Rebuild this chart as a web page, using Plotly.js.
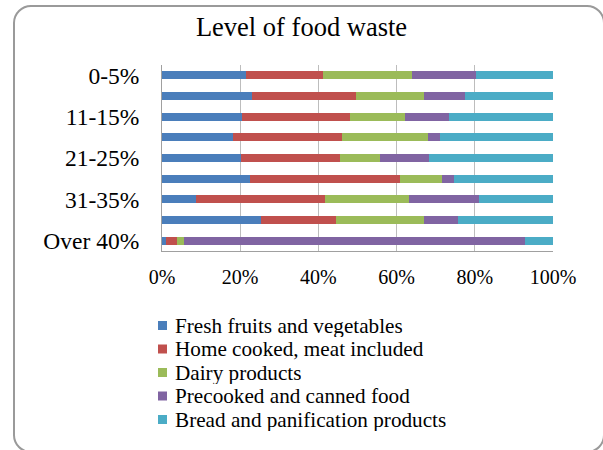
<!DOCTYPE html>
<html>
<head>
<meta charset="utf-8">
<script src="https://cdn.plot.ly/plotly-3.0.1.min.js"></script>
<style>
  html, body { margin: 0; padding: 0; background: #ffffff; }
  #wrap { position: relative; width: 603px; height: 450px; overflow: hidden; }
  #chart { width: 603px; height: 450px; }
  #frame {
    position: absolute; left: 13px; top: 5px; width: 588px; height: 444px;
    border: 2px solid #9a9a9a; border-radius: 18px; pointer-events: none;
  }
</style>
</head>
<body>
<div id="wrap">
  <div id="chart"></div>
  <div id="frame"></div>
</div>
<script>
// Share of wasted food by product type, per level of food waste
const categories = ['0-5%', '6-10%', '11-15%', '16-20%', '21-25%', '26-30%', '31-35%', '36-40%', 'Over 40%'];
const labeledCategories = ['0-5%', '11-15%', '21-25%', '31-35%', 'Over 40%'];

const seriesNames = [
  'Fresh fruits and vegetables',
  'Home cooked, meat included',
  'Dairy products',
  'Precooked and canned food',
  'Bread and panification products'
];
const seriesColors = ['#4A7EBB', '#C0504D', '#9BBB59', '#8064A2', '#4BACC6'];

const freshFruitsVegetables = [21.6, 23.1, 20.4, 18.2, 20.3, 22.6, 8.8, 25.4, 0.9];
const homeCookedMeat        = [19.7, 26.6, 27.6, 27.8, 25.1, 38.2, 33.0, 19.0, 2.9];
const dairyProducts         = [22.6, 17.2, 14.2, 22.1, 10.3, 10.7, 21.4, 22.5, 1.9];
const precookedCanned       = [16.3, 10.6, 11.2, 2.9, 12.6, 3.1, 18.0, 8.7, 87.1];
const breadPanification     = [19.8, 22.5, 26.6, 29.0, 31.7, 25.4, 18.8, 24.4, 7.2];

const seriesValues = [freshFruitsVegetables, homeCookedMeat, dairyProducts, precookedCanned, breadPanification];

const serif = 'Liberation Serif';

const traces = seriesNames.map((name, i) => ({
  type: 'bar',
  orientation: 'h',
  name: name,
  y: categories,
  x: seriesValues[i],
  marker: { color: seriesColors[i], line: { width: 0 } },
  showlegend: false,
  hoverinfo: 'name+x'
}));

// Plot area geometry (pixels) used to place the legend block under the chart
const W = 603, H = 450;
const M = { l: 162, r: 50, t: 65, b: 199 };
const plotW = W - M.l - M.r;
const plotH = H - M.t - M.b;
const px2x = px => (px - M.l) / plotW;
const py2y = py => (H - M.b - py) / plotH;

const legendTop = 325.5;
const legendStep = 23.5;
const annotations = [];
const shapes = [];
seriesNames.forEach((name, i) => {
  const cy = legendTop + i * legendStep;
  annotations.push({
    xref: 'paper', yref: 'paper',
    x: px2x(174), y: py2y(cy),
    xanchor: 'left', yanchor: 'middle',
    text: name, showarrow: false,
    borderpad: 0, height: 22,
    font: { family: serif, size: 21.2, color: '#000000' }
  });
  shapes.push({
    type: 'rect', xref: 'paper', yref: 'paper',
    x0: px2x(158), x1: px2x(167),
    y0: py2y(cy + 4.5), y1: py2y(cy - 4.5),
    fillcolor: seriesColors[i], line: { width: 0 }
  });
});

const layout = {
  width: W, height: H,
  margin: M,
  font: { family: serif, color: '#000000' },
  paper_bgcolor: '#ffffff',
  plot_bgcolor: '#ffffff',
  barmode: 'stack',
  barnorm: 'percent',
  bargap: 0.6,
  title: {
    text: 'Level of food waste',
    font: { family: serif, size: 26.5, color: '#000000' },
    x: 0.5, xref: 'container', xanchor: 'center',
    y: 1 - 27 / H, yref: 'container', yanchor: 'middle'
  },
  xaxis: {
    range: [0, 100],
    tickmode: 'linear', tick0: 0, dtick: 20,
    ticksuffix: '%',
    showgrid: true, gridcolor: '#bdbdbd', gridwidth: 1,
    showline: true, linecolor: '#a0a0a0', linewidth: 1,
    zeroline: false,
    ticks: '', ticklabelstandoff: 8,
    tickfont: { family: serif, size: 20, color: '#000000' },
    fixedrange: true
  },
  yaxis: {
    type: 'category',
    categoryorder: 'array', categoryarray: categories,
    autorange: 'reversed',
    tickmode: 'array', tickvals: labeledCategories, ticktext: labeledCategories,
    showgrid: false,
    showline: true, linecolor: '#a0a0a0', linewidth: 1,
    ticks: '', ticklabelstandoff: 17,
    tickfont: { family: serif, size: 23.5, color: '#000000' },
    fixedrange: true
  },
  showlegend: false,
  annotations: annotations,
  shapes: shapes
};

Plotly.newPlot('chart', traces, layout, { displayModeBar: false, staticPlot: true });
</script>
</body>
</html>
